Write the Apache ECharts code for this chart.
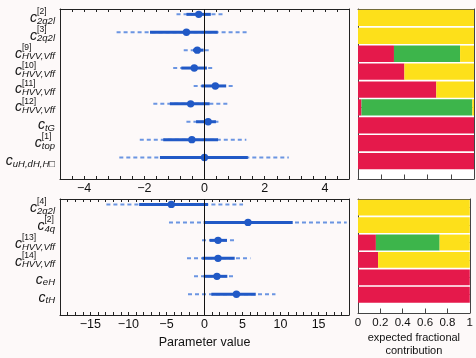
<!DOCTYPE html>
<html><head><meta charset="utf-8">
<script src="https://cdn.jsdelivr.net/npm/echarts@6/dist/echarts.min.js"></script>
<style>html,body{margin:0;padding:0;background:#fdf9f9;}#c{width:476px;height:358px;}</style>
</head><body><div id="c"></div>
<script>
// ---- top panel ----
const topSup = ['[2]','[3]','[9]','[10]','[11]','[12]','','[1]',''];
const topSub = ['2q2l','2q2l','HVV,Vff','HVV,Vff','HVV,Vff','HVV,Vff','tG','top','uH,dH,H\u25A1'];
const topBest = [-0.19,-0.60,-0.24,-0.34,0.36,-0.46,0.12,-0.42,0.00];
const topLo68 = [-0.60,-1.81,-0.38,-0.77,-0.10,-1.15,-0.28,-1.37,-1.48];
const topHi68 = [0.21,0.44,-0.03,0.08,0.72,0.17,0.38,0.45,1.44];
const topLo95 = [-0.93,-2.92,-0.69,-1.04,-0.36,-1.70,-0.60,-2.15,-2.83];
const topHi95 = [0.65,1.44,0.17,0.34,1.00,0.81,0.55,1.39,2.80];
const topRed = [0,0,0.31,0.40,0.675,0.03,1,1,1];
const topGreen = [0,0,0.57,0,0,0.955,0,0,0];
const topYellow = [1,1,0.12,0.60,0.325,0.015,0,0,0];
// ---- bottom panel ----
const botSup = ['[4]','[2]','[13]','[14]','',''];
const botSub = ['2q2l','4q','HVV,Vff','HVV,Vff','eH','tH'];
const botBest = [-4.36,5.72,1.78,1.78,1.64,4.20];
const botLo68 = [-8.6,-0.1,0.68,-0.28,-0.1,0.9];
const botHi68 = [0.46,11.6,2.96,3.97,3.0,6.74];
const botLo95 = [-12.9,-4.67,-0.33,-2.3,-1.38,-2.17];
const botHi95 = [5.07,18.7,3.97,6.04,4.1,9.33];
const botRed = [0,0,0.16,0.18,1,1];
const botGreen = [0,0,0.57,0,0,0];
const botYellow = [1,1,0.27,0.82,0,0];
// ---- tick labels ----
const topTicks = [-4,-2,0,2,4];
const botTicks = [-15,-10,-5,0,5,10,15];
const fracTicks = [0,0.2,0.4,0.6,0.8,1];

const F = 'Liberation Sans';
const DARK = '#2159c6', LIGHT = '#6b95e2';
const RED = '#e5194b', GREEN = '#3db54b', YELLOW = '#fde01a';
const FRAME = '#222';

const rich = {
  g: {fontFamily:F, fontStyle:'italic', fontSize:14, color:'rgba(0,0,0,0)', lineHeight:3, height:3, align:'left'},
  p: {fontFamily:F, fontSize:8.5, lineHeight:3, height:3, padding:[4,0,0,0], align:'left', color:'#111'},
  c: {fontFamily:F, fontStyle:'italic', fontSize:14, lineHeight:13, height:13, align:'left', color:'#111'},
  s: {fontFamily:F, fontStyle:'italic', fontSize:9.5, lineHeight:13, height:7, padding:[6,0,0,0], align:'left', color:'#111'}
};
function mkLabel(sup, sub){ return '{g|c}{p|' + (sup || ' ') + '}\n{c|c}{s|' + sub + '}'; }
const idx = n => Array.from({length:n}, (_, i) => i);
const minus = v => String(v).replace('-', '\u2212');

function errData(best, lo68, hi68, lo95, hi95){
  return best.map((b, i) => [i, lo95[i], lo68[i], b, hi68[i], hi95[i]]);
}
function errRender(params, api){
  const y = api.value(0);
  const a95 = api.coord([api.value(1), y]), b95 = api.coord([api.value(5), y]);
  const a68 = api.coord([api.value(2), y]), b68 = api.coord([api.value(4), y]);
  const c = api.coord([api.value(3), y]);
  return {type:'group', children:[
    {type:'line', shape:{x1:a95[0], y1:a95[1], x2:b95[0], y2:b95[1]}, style:{stroke:LIGHT, lineWidth:2, lineDash:[4,3]}},
    {type:'line', shape:{x1:a68[0], y1:a68[1], x2:b68[0], y2:b68[1]}, style:{stroke:DARK, lineWidth:3}},
    {type:'circle', shape:{cx:c[0], cy:c[1], r:3.7}, style:{fill:DARK}}
  ]};
}
function barSeg(startArr, lenArr){
  const out = [];
  lenArr.forEach((l, i) => { if (l > 0) out.push([i, startArr[i], startArr[i] + l]); });
  return out;
}
function barRender(params, api){
  const r = api.value(0);
  const a = api.coord([api.value(1), r - 0.455]);
  const b = api.coord([api.value(2), r + 0.455]);
  return {type:'rect', shape:{x:a[0], y:Math.min(a[1], b[1]), width:b[0]-a[0], height:Math.abs(b[1]-a[1])}, style:api.style()};
}

const grids = [
  {left:60, top:9, width:289, height:170},
  {left:60, top:199, width:289, height:116},
  {left:358, top:9, width:116, height:170, show:true, backgroundColor:'#ffffff', borderWidth:0},
  {left:358, top:199, width:116, height:116, show:true, backgroundColor:'#ffffff', borderWidth:0}
];
const tickLbl = {fontFamily:F, fontSize:12.5, color:'#111'};
const xAxes = [], yAxes = [];
const xMain = [], yMain = [];
function addX(grid, min, max, interval, labels, opts){
  const lineC = grid >= 2 ? '#444' : FRAME;
  const base = {gridIndex:grid, type:'value', min:min, max:max, interval:interval,
    splitLine:{show:false}, axisLine:{show:true, onZero:false, lineStyle:{color:lineC, width:1}},
    axisTick:{show:true, inside:true, length:grid >= 2 ? 4.5 : 3, lineStyle:{color:lineC}}};
  xMain[grid] = xAxes.length;
  xAxes.push(Object.assign({}, base, {position:'bottom',
    axisLabel: labels ? Object.assign({show:true, customValues:labels, margin:opts.margin, showMinLabel:true, showMaxLabel:true, formatter:v => minus(v)}, tickLbl, opts.lbl || {}) : {show:false}}, opts.extra || {}));
  xAxes.push(Object.assign({}, base, {position:'top', axisLabel:{show:false}}));
}
function addY(grid, min, max, n, sup, sub){
  const lineC = grid >= 2 ? '#444' : FRAME;
  const base = {gridIndex:grid, type:'value', min:min, max:max, inverse:true, splitLine:{show:false},
    axisLine:{show:true, onZero:false, lineStyle:{color:lineC, width:1}}};
  const ticks = grid >= 2 ? {show:true, inside:true, length:4, customValues:idx(n), lineStyle:{color:'#777'}} : {show:false};
  const lbl = vals => ({show:true, customValues:vals, margin:5, padding:[4,0,0,0], showMinLabel:true, showMaxLabel:true, hideOverlap:false,
      formatter:v => mkLabel(sup[Math.round(v)], sub[Math.round(v)]), rich:rich});
  yMain[grid] = yAxes.length;
  yAxes.push(Object.assign({}, base, {position:'left', axisTick:ticks,
    axisLabel: sub ? lbl(idx(n).filter(i => i % 2 === 0)) : {show:false}}));
  yAxes.push(Object.assign({}, base, {position:'right', axisTick:ticks, axisLabel:{show:false}}));
  if (sub) {
    // odd rows on a twin axis so that neighbouring labels are not culled
    yAxes.push(Object.assign({}, base, {position:'left', axisLine:{show:false}, axisTick:{show:false},
      axisLabel: lbl(idx(n).filter(i => i % 2 === 1))}));
  }
}
addX(0, -4.8, 4.8, 0.4, topTicks, {margin:3.5});
addX(1, -19, 19, 1, botTicks, {margin:3, extra:{name:'Parameter value', nameLocation:'middle', nameGap:21,
    nameTextStyle:{fontFamily:F, fontSize:12.5, color:'#111'}}});
addX(2, 0, 1, 0.2, null, {});
addX(3, 0, 1, 0.2, fracTicks, {margin:4, lbl:{fontSize:11.5}, extra:{name:'expected fractional\ncontribution', nameLocation:'middle', nameGap:19,
    nameTextStyle:{fontFamily:F, fontSize:11, lineHeight:12.5, color:'#111'}}});
addY(0, -0.3, 9.2, 9, topSup, topSub);
addY(1, -0.3, 6.15, 6, botSup, botSub);
addY(2, -0.5, 9.0, 9, null, null);
addY(3, -0.5, 6.05, 6, null, null);

function barSeries(grid, red, green, yellow){
  const zero = red.map(() => 0);
  const gStart = red.slice();
  const yStart = red.map((v, i) => v + green[i]);
  return [
    {color:RED, d:barSeg(zero, red)},
    {color:GREEN, d:barSeg(gStart, green)},
    {color:YELLOW, d:barSeg(yStart, yellow)}
  ].map(s => ({type:'custom', xAxisIndex:xMain[grid], yAxisIndex:yMain[grid], renderItem:barRender,
    itemStyle:{color:s.color}, encode:{x:[1,2], y:0}, data:s.d, silent:true}));
}
const zeroLine = {silent:true, symbol:'none', label:{show:false}, lineStyle:{color:'#111', width:1, type:'solid'}, data:[{xAxis:0}]};
const series = [
  {type:'custom', xAxisIndex:xMain[0], yAxisIndex:yMain[0], renderItem:errRender, encode:{x:[1,2,3,4,5], y:0},
    data:errData(topBest, topLo68, topHi68, topLo95, topHi95), markLine:zeroLine, silent:true, z:3},
  {type:'custom', xAxisIndex:xMain[1], yAxisIndex:yMain[1], renderItem:errRender, encode:{x:[1,2,3,4,5], y:0},
    data:errData(botBest, botLo68, botHi68, botLo95, botHi95), markLine:zeroLine, silent:true, z:3}
].concat(barSeries(2, topRed, topGreen, topYellow), barSeries(3, botRed, botGreen, botYellow));

const chart = echarts.init(document.getElementById('c'), null, {renderer:'canvas'});
chart.setOption({
  backgroundColor:'#fdf9f9',
  animation:false,
  grid:grids,
  xAxis:xAxes,
  yAxis:yAxes,
  series:series
});
</script></body></html>
